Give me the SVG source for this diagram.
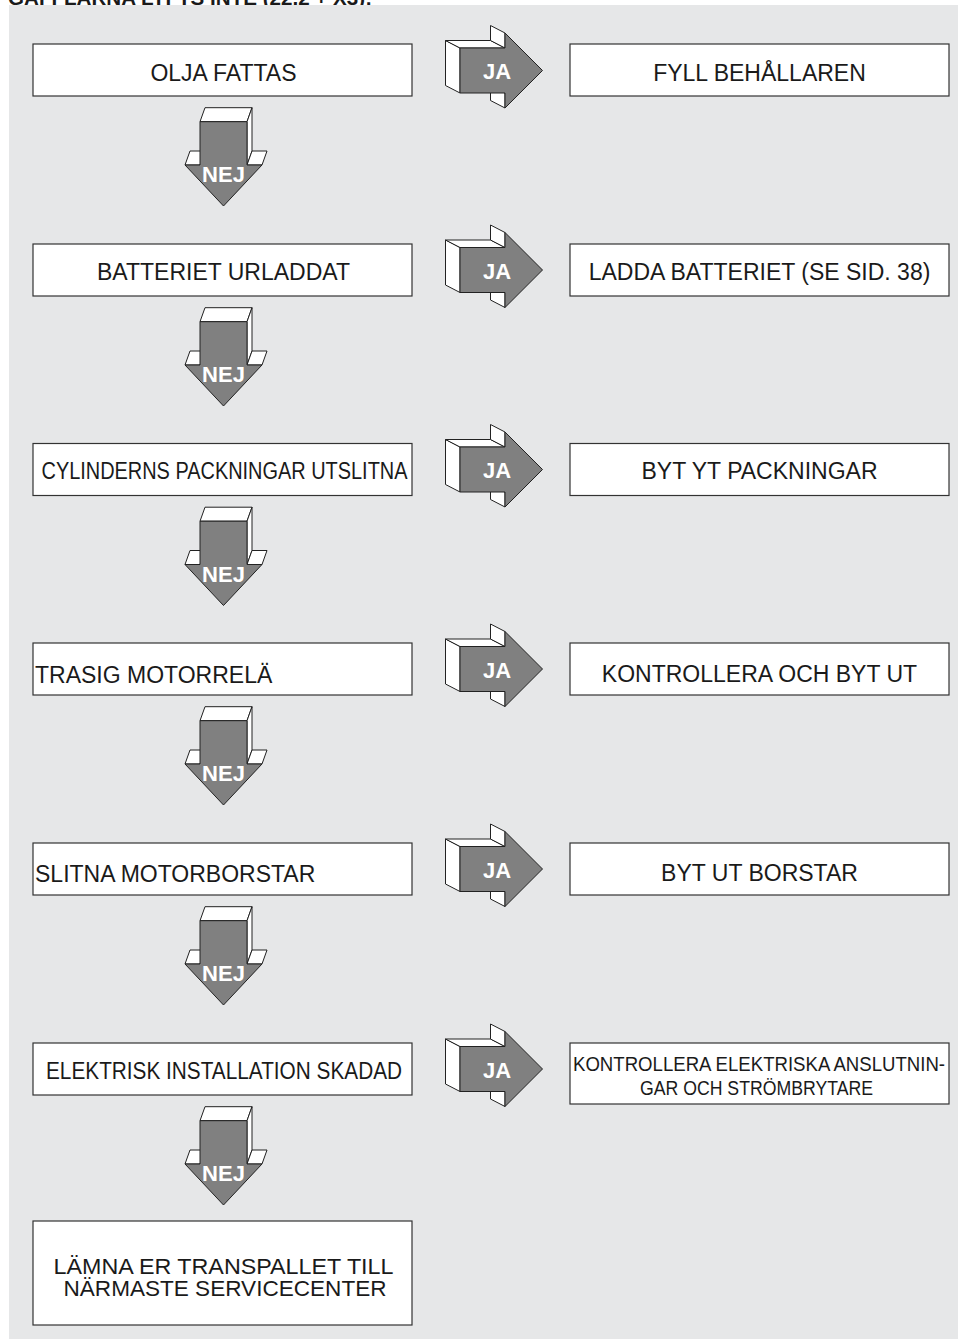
<svg xmlns="http://www.w3.org/2000/svg" width="961" height="1339" viewBox="0 0 961 1339">
<style>
.bg{fill:#e6e7e8}
.box{fill:#ffffff;stroke:#333333;stroke-width:1.2}
.t{font-family:"Liberation Sans",Arial,sans-serif;font-size:23px;fill:#1a1a1a}
.s{font-size:20.5px}
.m{font-size:21.5px}
.c{text-anchor:middle}
.side{fill:#ffffff;stroke:#222222;stroke-width:1;stroke-linejoin:round}
.front{fill:#808080;stroke:#222222;stroke-width:1;stroke-linejoin:round}
.lbl{font-family:"Liberation Sans",Arial,sans-serif;font-weight:bold;font-size:22px;fill:#ffffff;text-anchor:middle}
.title{font-family:"Liberation Sans",Arial,sans-serif;font-weight:bold;font-size:20px;fill:#1a1a1a}
</style>
<defs>
<g id="ja">
<polygon class="side" points="460,-22.5 445.5,-30 445.5,15 460,22.5"/>
<polygon class="side" points="445.5,-30 490.5,-30 505,-22.5 460,-22.5"/>
<polygon class="side" points="490.5,-45 505,-37.5 505,-22.5 490.5,-30"/>
<polygon class="side" points="490.5,15 505,22.5 505,37.5 490.5,30"/>
<polygon class="front" points="460,-22.5 505,-22.5 505,-37.5 542.5,0 505,37.5 505,22.5 460,22.5"/>
</g>
<g id="nej">
<polygon class="side" points="200,51.7 247,51.7 252,37.7 205,37.7"/>
<polygon class="side" points="247,51.7 252,37.7 252,81 247,95"/>
<polygon class="side" points="247,95 262,95 267,81 252,81"/>
<polygon class="side" points="185,95 200,95 205,81 190,81"/>
<polygon class="front" points="200,51.7 247,51.7 247,95 262,95 223.5,136 185,95 200,95"/>
</g>
</defs>
<text class="title" x="8" y="5" textLength="364" lengthAdjust="spacingAndGlyphs">GAFFLARNA LYFTS INTE (22,2 + X3):</text>
<rect class="bg" x="9" y="5" width="949" height="1334"/>

<g id="connectors">
<g id="ja1"><use href="#ja" transform="translate(0,70.5)"/><text class="lbl" x="497" y="79">JA</text></g>
<g id="ja2"><use href="#ja" transform="translate(0,270)"/><text class="lbl" x="497" y="278.5">JA</text></g>
<g id="ja3"><use href="#ja" transform="translate(0,469.5)"/><text class="lbl" x="497" y="478">JA</text></g>
<g id="ja4"><use href="#ja" transform="translate(0,669)"/><text class="lbl" x="497" y="677.5">JA</text></g>
<g id="ja5"><use href="#ja" transform="translate(0,869)"/><text class="lbl" x="497" y="877.5">JA</text></g>
<g id="ja6"><use href="#ja" transform="translate(0,1069)"/><text class="lbl" x="497" y="1077.5">JA</text></g>
<g id="nej1"><use href="#nej" transform="translate(0,70)"/><text class="lbl" x="223.5" y="182">NEJ</text></g>
<g id="nej2"><use href="#nej" transform="translate(0,270)"/><text class="lbl" x="223.5" y="382">NEJ</text></g>
<g id="nej3"><use href="#nej" transform="translate(0,469.5)"/><text class="lbl" x="223.5" y="581.5">NEJ</text></g>
<g id="nej4"><use href="#nej" transform="translate(0,669)"/><text class="lbl" x="223.5" y="781">NEJ</text></g>
<g id="nej5"><use href="#nej" transform="translate(0,869)"/><text class="lbl" x="223.5" y="981">NEJ</text></g>
<g id="nej6"><use href="#nej" transform="translate(0,1069)"/><text class="lbl" x="223.5" y="1181">NEJ</text></g>
</g>

<g id="q1"><rect class="box" x="33" y="44" width="379" height="52"/><text class="t c" x="223.5" y="81">OLJA FATTAS</text></g>
<g id="a1"><rect class="box" x="570" y="44" width="379" height="52"/><text class="t c" x="759.5" y="81">FYLL BEHÅLLAREN</text></g>

<g id="q2"><rect class="box" x="33" y="244" width="379" height="52"/><text class="t c" x="223.5" y="280">BATTERIET URLADDAT</text></g>
<g id="a2"><rect class="box" x="570" y="244" width="379" height="52"/><text class="t c" x="759.5" y="280">LADDA BATTERIET (SE SID. 38)</text></g>

<g id="q3"><rect class="box" x="33" y="443.5" width="379" height="52"/><text class="t" x="41.5" y="478.5" textLength="366" lengthAdjust="spacingAndGlyphs">CYLINDERNS PACKNINGAR UTSLITNA</text></g>
<g id="a3"><rect class="box" x="570" y="443.5" width="379" height="52"/><text class="t c" x="759.5" y="479">BYT YT PACKNINGAR</text></g>

<g id="q4"><rect class="box" x="33" y="643" width="379" height="52"/><text class="t" x="35" y="683">TRASIG MOTORRELÄ</text></g>
<g id="a4"><rect class="box" x="570" y="643" width="379" height="52"/><text class="t c" x="759.5" y="682">KONTROLLERA OCH BYT UT</text></g>

<g id="q5"><rect class="box" x="33" y="843" width="379" height="52"/><text class="t" x="35" y="882">SLITNA MOTORBORSTAR</text></g>
<g id="a5"><rect class="box" x="570" y="843" width="379" height="52"/><text class="t c" x="759.5" y="881">BYT UT BORSTAR</text></g>

<g id="q6"><rect class="box" x="33" y="1043" width="379" height="52"/><text class="t" x="46" y="1079" textLength="356" lengthAdjust="spacingAndGlyphs">ELEKTRISK INSTALLATION SKADAD</text></g>
<g id="a6"><rect class="box" x="570" y="1043" width="379" height="61"/><text class="t s" x="573" y="1071" textLength="372" lengthAdjust="spacingAndGlyphs">KONTROLLERA ELEKTRISKA ANSLUTNIN-</text><text class="t s" x="640" y="1095" textLength="233" lengthAdjust="spacingAndGlyphs">GAR OCH STRÖMBRYTARE</text></g>

<g id="end"><rect class="box" x="33" y="1221" width="379" height="104"/><text class="t m" x="53.5" y="1274" textLength="340" lengthAdjust="spacingAndGlyphs">LÄMNA ER TRANSPALLET TILL</text><text class="t m" x="63.5" y="1296" textLength="323" lengthAdjust="spacingAndGlyphs">NÄRMASTE SERVICECENTER</text></g>
</svg>
